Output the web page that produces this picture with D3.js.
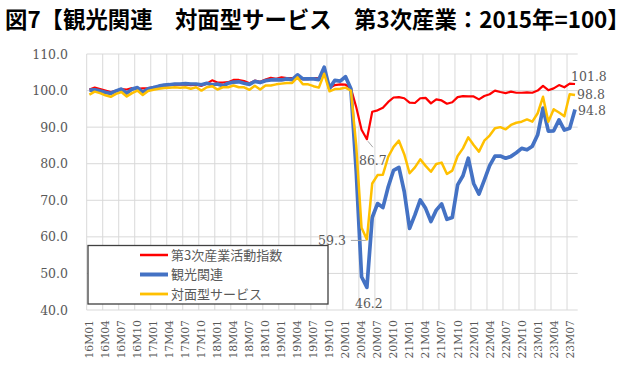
<!DOCTYPE html>
<html lang="ja">
<head>
<meta charset="utf-8">
<title>図7 観光関連 対面型サービス</title>
<script src="https://d3js.org/d3.v7.min.js"></script>
<style>
  body { margin: 0; background: #fff; }
  svg { width: 640px; height: 376px; display: block; }
  .title { font-family: "Noto Sans CJK JP", sans-serif; font-size: 22.4px; font-weight: bold; fill: #000; }
  .tick-y, .tick-x, .dlabel { font-family: "DejaVu Serif", serif; fill: #595959; }
  .legend text { font-family: "Noto Sans CJK JP", sans-serif; font-size: 13px; fill: #595959; }
</style>
</head>
<body>
<svg></svg>
<script>
// months 16M01 .. 23M08
const months = [];
for (let yr = 16; yr <= 23; yr++) {
  for (let m = 1; m <= 12; m++) {
    if (yr === 23 && m > 8) break;
    months.push(yr + "M" + String(m).padStart(2, "0"));
  }
}

// 第3次産業活動指数
const tertiary = [
  100.3,100.8,100.4,100.0,99.6,99.9,100.4,100.3,100.7,100.5,100.6,100.7,
  100.9,100.9,101.3,101.5,101.6,101.7,101.6,101.5,101.6,101.3,101.9,102.8,
  102.2,102.2,102.3,102.9,102.9,102.6,102.0,102.7,102.4,103.0,103.5,103.2,
  103.6,103.4,103.4,103.4,103.1,103.1,103.4,103.4,105.0,100.7,101.5,101.7,
  101.6,100.6,95.5,89.3,86.7,94.2,94.6,95.3,96.9,98.1,98.2,97.9,
  96.7,96.6,97.9,98.0,96.5,97.6,97.3,96.4,96.8,98.2,98.5,98.4,
  98.4,97.6,98.5,99.0,100.0,99.6,99.3,99.7,99.4,99.4,99.5,99.4,
  100.0,101.3,100.1,100.6,101.5,100.9,101.9,101.8
];
// 観光関連
const tourism = [
  100.1,100.2,99.9,99.5,99.2,99.9,100.4,99.3,100.4,100.8,99.5,100.5,
  100.8,101.2,101.5,101.6,101.8,101.8,101.9,101.8,101.8,101.6,102.0,101.6,
  101.8,101.3,102.0,102.3,102.4,102.0,101.7,102.5,102.2,102.7,102.9,103.0,
  102.9,103.2,103.0,104.3,103.2,103.2,103.2,103.0,106.4,100.6,102.8,102.6,
  103.8,100.5,78.0,49.1,46.2,65.3,69.1,68.0,73.7,78.2,79.0,72.4,
  62.3,66.0,70.1,67.8,64.2,67.3,69.0,64.8,65.3,74.2,76.7,81.5,
  74.6,71.7,75.5,79.5,82.1,82.1,81.5,82.0,83.0,84.2,83.8,84.8,
  87.9,95.2,88.9,89.0,92.0,89.2,89.7,94.8
];
// 対面型サービス
const faceToFace = [
  98.9,99.7,99.3,98.7,98.3,99.1,99.6,98.4,99.3,100.0,98.8,99.9,
  100.2,100.5,100.7,100.8,100.9,100.8,100.9,100.5,100.9,100.0,100.9,101.2,
  100.3,100.9,100.9,101.4,100.9,100.9,100.2,101.3,100.3,101.4,101.4,101.7,
  101.9,102.1,102.1,103.6,101.7,101.7,101.2,100.8,104.6,99.8,100.4,100.5,
  100.8,100.0,85.0,62.5,59.3,74.6,76.9,77.0,81.9,84.6,86.3,82.6,
  77.4,79.0,81.2,79.4,77.8,79.9,80.3,77.2,78.1,82.1,84.2,87.2,
  85.1,83.3,86.3,87.7,89.7,90.0,89.4,90.6,91.2,91.5,92.1,91.5,
  93.8,98.3,91.5,94.9,94.0,93.0,99.0,98.8
];

const seriesNames = ["第3次産業活動指数", "観光関連", "対面型サービス"];
const yTicks = [40, 50, 60, 70, 80, 90, 100, 110];

const series = [
  { name: seriesNames[0], values: tertiary, color: "#ff0000", width: 2.2 },
  { name: seriesNames[1], values: tourism, color: "#4472c4", width: 3.7 },
  { name: seriesNames[2], values: faceToFace, color: "#ffc000", width: 2.5 }
];

const svg = d3.select("svg");
const plotL = 86.7, plotR = 577.7, plotT = 54, plotB = 310;

const x = d3.scaleBand().domain(months).range([plotL, plotR]).padding(0);
const y = d3.scaleLinear().domain([40, 110]).range([plotB, plotT]);
const cx = d => x(d) + x.bandwidth() / 2;

// title
svg.append("text")
  .attr("class", "title")
  .attr("x", 5)
  .attr("y", 28)
  .text("図7【観光関連　対面型サービス　第3次産業：2015年=100】");

// horizontal gridlines
svg.append("g").selectAll("line")
  .data(yTicks)
  .join("line")
  .attr("x1", plotL).attr("x2", plotR)
  .attr("y1", d => y(d)).attr("y2", d => y(d))
  .attr("stroke", "#d9d9d9").attr("stroke-width", 1);

// vertical gridlines every 3 months
const tickMonths = months.filter((d, i) => i % 3 === 0);
svg.append("g").selectAll("line")
  .data(tickMonths)
  .join("line")
  .attr("x1", d => x(d)).attr("x2", d => x(d))
  .attr("y1", plotT).attr("y2", plotB)
  .attr("stroke", "#d9d9d9").attr("stroke-width", 1);

// y tick labels
svg.append("g").selectAll("text")
  .data(yTicks)
  .join("text")
  .attr("class", "tick-y")
  .attr("x", 68)
  .attr("y", d => y(d))
  .attr("dy", "0.36em")
  .attr("text-anchor", "end")
  .style("font-size", "12.5px")
  .text(d3.format(".1f"));

// x tick labels (rotated)
svg.append("g").selectAll("text")
  .data(tickMonths)
  .join("text")
  .attr("class", "tick-x")
  .attr("transform", d => "translate(" + cx(d) + "," + (plotB + 10) + ") rotate(-90)")
  .attr("dy", "0.36em")
  .attr("text-anchor", "end")
  .style("font-size", "10.8px")
  .text(d => d);

// lines
const line = d3.line()
  .x((d, i) => cx(months[i]))
  .y(d => y(d));

svg.append("g").selectAll("path")
  .data(series)
  .join("path")
  .attr("d", d => line(d.values))
  .attr("fill", "none")
  .attr("stroke", d => d.color)
  .attr("stroke-width", d => d.width)
  .attr("stroke-linejoin", "round");

// data labels
const lastI = months.length - 1;
const troughI = months.indexOf("20M05");
const labels = [
  { s: 0, i: troughI, dx: 6, dy: 21, anchor: "middle", lead: [1, 2, 6, 8] },
  { s: 2, i: troughI, dx: -21, dy: 1, anchor: "end", lead: [-16, 1, -1, 1] },
  { s: 1, i: troughI, dx: 2, dy: 16, anchor: "middle" },
  { s: 0, i: lastI, dx: -4, dy: -7, anchor: "start" },
  { s: 2, i: lastI, dx: 2, dy: 0, anchor: "start" },
  { s: 1, i: lastI, dx: 3, dy: 1, anchor: "start" }
];
const lg = svg.append("g");
labels.forEach(l => {
  const v = series[l.s].values[l.i];
  const px = cx(months[l.i]), py = y(v);
  if (l.lead) {
    lg.append("line")
      .attr("x1", px + l.lead[0]).attr("y1", py + l.lead[1])
      .attr("x2", px + l.lead[2]).attr("y2", py + l.lead[3])
      .attr("stroke", "#a6a6a6").attr("stroke-width", 1);
  }
  lg.append("text")
    .attr("class", "dlabel")
    .attr("x", px + l.dx)
    .attr("y", py + l.dy)
    .attr("dy", "0.36em")
    .attr("text-anchor", l.anchor)
    .style("font-size", "12.5px")
    .text(d3.format(".1f")(v));
});

// legend
const legend = svg.append("g").attr("class", "legend");
legend.append("rect")
  .attr("x", 88).attr("y", 245.5)
  .attr("width", 240).attr("height", 58.5)
  .attr("fill", "#fff")
  .attr("stroke", "#404040").attr("stroke-width", 1.3);

const rowY = [255, 274.5, 294];
series.forEach((s, k) => {
  legend.append("line")
    .attr("x1", 140).attr("x2", 168)
    .attr("y1", rowY[k]).attr("y2", rowY[k])
    .attr("stroke", s.color)
    .attr("stroke-width", s.width + 0.3);
  legend.append("text")
    .attr("x", 171)
    .attr("y", rowY[k])
    .attr("dy", "0.36em")
    .text(s.name);
});
</script>
</body>
</html>
